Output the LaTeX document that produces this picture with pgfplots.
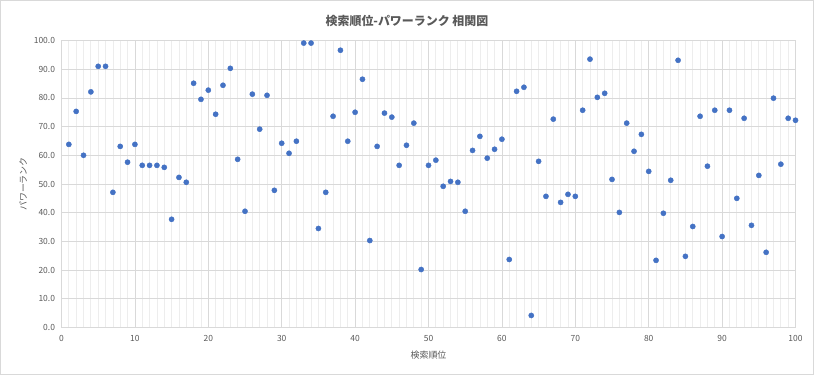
\documentclass[border=0pt]{standalone}
\usepackage{fontspec}
\setmainfont{Noto Sans CJK JP}
\usepackage{pgfplots}
\pgfplotsset{compat=1.18}
\definecolor{ptblue}{HTML}{4472C4}
\definecolor{txtgray}{HTML}{595959}
\definecolor{gridc}{HTML}{D9D9D9}
\definecolor{minorc}{HTML}{EDEDED}
\definecolor{framec}{HTML}{D9D9D9}
\begin{document}
\begin{tikzpicture}[x=1bp,y=1bp]
\draw[color=framec, line width=1bp] (0.5,0.5) rectangle (813.5,374.5);
\begin{axis}[
  at={(61.5bp,47.5bp)}, anchor=south west,
  scale only axis, width=734bp, height=287bp,
  xmin=0, xmax=100, ymin=0, ymax=100,
  xtick distance=10, ytick distance=10,
  minor x tick num=9,
  grid=both,
  major grid style={color=gridc, line width=0.75bp},
  minor grid style={color=minorc, line width=0.75bp},
  axis line style={color=gridc, line width=0.75bp},
  major tick length=0pt, minor tick length=0pt,
  /pgf/number format/assume math mode=true,
  ticklabel style={font=\fontsize{8.5}{10}\selectfont, text=txtgray},
  yticklabel style={/pgf/number format/fixed, /pgf/number format/precision=1, /pgf/number format/zerofill, xshift=-3bp},
  xticklabel style={yshift=-4bp},
  xlabel={検索順位}, ylabel={パワーランク},
  label style={font=\fontsize{9}{10}\selectfont, text=txtgray},
  xlabel style={yshift=-3bp},
  ylabel style={yshift=0bp},
  title={検索順位-パワーランク 相関図},
  title style={font=\bfseries\fontsize{12}{14}\selectfont, text=txtgray, at={(0.5,1)}, xshift=-21.5bp, yshift=4bp},
  clip=false,
]
\addplot[only marks, mark=*, mark size=2.6bp, color=ptblue, fill=ptblue] coordinates {
(1,63.8)(2,75.3)(3,60.0)(4,82.1)(5,91.0)(6,91.0)(7,47.1)(8,63.1)(9,57.6)(10,63.8)
(11,56.5)(12,56.5)(13,56.5)(14,55.8)(15,37.7)(16,52.3)(17,50.6)(18,85.1)(19,79.5)(20,82.7)
(21,74.3)(22,84.4)(23,90.3)(24,58.6)(25,40.5)(26,81.3)(27,69.1)(28,80.9)(29,47.8)(30,64.2)
(31,60.7)(32,64.9)(33,99.1)(34,99.1)(35,34.5)(36,47.1)(37,73.6)(38,96.6)(39,64.9)(40,75.0)
(41,86.5)(42,30.3)(43,63.1)(44,74.7)(45,73.3)(46,56.5)(47,63.5)(48,71.2)(49,20.2)(50,56.5)
(51,58.3)(52,49.2)(53,50.9)(54,50.6)(55,40.5)(56,61.7)(57,66.6)(58,59.0)(59,62.1)(60,65.6)
(61,23.7)(62,82.3)(63,83.7)(64,4.2)(65,57.9)(66,45.7)(67,72.6)(68,43.6)(69,46.4)(70,45.7)
(71,75.7)(72,93.5)(73,80.2)(74,81.6)(75,51.6)(76,40.1)(77,71.2)(78,61.4)(79,67.3)(80,54.4)
(81,23.4)(82,39.8)(83,51.3)(84,93.1)(85,24.8)(86,35.2)(87,73.6)(88,56.2)(89,75.7)(90,31.7)
(91,75.7)(92,45.0)(93,72.9)(94,35.6)(95,53.0)(96,26.2)(97,79.9)(98,56.9)(99,72.9)(100,72.2)
};
\end{axis}
\end{tikzpicture}
\end{document}
